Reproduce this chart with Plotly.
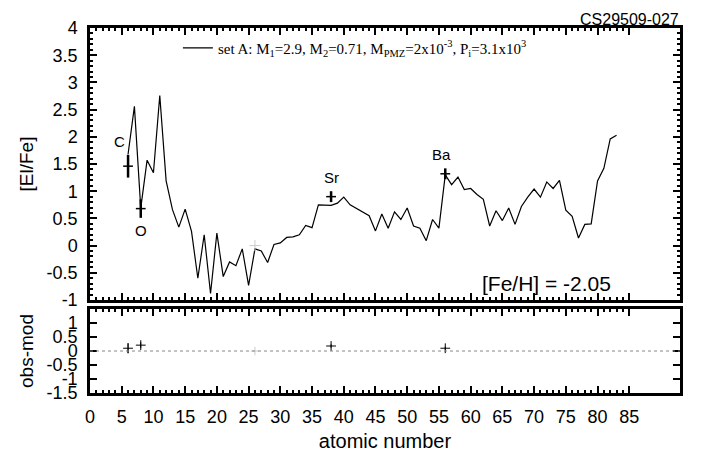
import plotly.graph_objects as go

# model abundance pattern (set A), atomic numbers 6..83
model_z = list(range(6, 84))
model_elfe = [
    1.68, 2.56, 0.69, 1.57, 1.34, 2.76, 1.19, 0.66, 0.34, 0.67,
    0.26, -0.60, 0.20, -0.88, 0.23, -0.57, -0.30, -0.37, -0.06, -0.73,
    -0.06, -0.10, -0.31, 0.02, 0.05, 0.15, 0.16, 0.20, 0.37, 0.33,
    0.75, 0.75, 0.74, 0.78, 0.89, 0.75, 0.68, 0.62, 0.55, 0.27,
    0.58, 0.32, 0.62, 0.48, 0.69, 0.36, 0.32, 0.09, 0.48, 0.32,
    1.30, 1.12, 1.26, 1.03, 1.05, 0.94, 0.85, 0.36, 0.64, 0.46,
    0.69, 0.39, 0.72, 0.89, 1.04, 0.89, 1.17, 1.05, 1.20, 0.65,
    0.54, 0.14, 0.39, 0.40, 1.19, 1.42, 1.96, 2.03,
]

# observed abundances
obs_z = [6, 8, 38, 56]
obs_names = ["C", "O", "Sr", "Ba"]
obs_elfe = [1.46, 0.68, 0.90, 1.32]
obs_err = [0.21, 0.17, 0.10, 0.10]
fe_z = [26]
fe_elfe = [0.0]

# residuals obs - model
res_z = [6, 8, 38, 56]
res_val = [0.10, 0.21, 0.18, 0.10]
res_err = [0.18, 0.10, 0.06, 0.06]

xticks = list(range(0, 90, 5))
xminor = [z for z in range(0, 86) if z % 5]
font = "Liberation Sans, Arial, sans-serif"

fig = go.Figure()

fig.add_trace(go.Scatter(
    x=model_z, y=model_elfe, mode="lines",
    line=dict(color="black", width=1.2),
    name="set A: M<sub>1</sub>=2.9, M<sub>2</sub>=0.71, M<sub>PMZ</sub>=2x10<sup>-3</sup>, P<sub>i</sub>=3.1x10<sup>3</sup>",
    xaxis="x", yaxis="y",
))
fig.add_trace(go.Scatter(
    x=obs_z, y=obs_elfe, mode="markers",
    marker=dict(symbol="line-ew", size=7, line=dict(color="black", width=1.5)),
    error_y=dict(type="data", array=obs_err, color="black", thickness=2.5, width=0),
    showlegend=False, xaxis="x", yaxis="y",
))
fig.add_trace(go.Scatter(
    x=fe_z, y=fe_elfe, mode="markers",
    marker=dict(symbol="cross-thin", size=8, line=dict(color="#cccccc", width=1)),
    showlegend=False, xaxis="x", yaxis="y",
))
fig.add_trace(go.Scatter(
    x=res_z, y=res_val, mode="markers",
    marker=dict(symbol="cross-thin", size=7, line=dict(color="black", width=1)),
    error_y=dict(type="data", array=res_err, color="black", thickness=1, width=0),
    showlegend=False, xaxis="x2", yaxis="y2",
))
fig.add_trace(go.Scatter(
    x=fe_z, y=[0.0], mode="markers",
    marker=dict(symbol="cross-thin", size=6, line=dict(color="#cccccc", width=1)),
    showlegend=False, xaxis="x2", yaxis="y2",
))

ax_common = dict(
    showline=True, linecolor="black", linewidth=2.5, mirror="ticks",
    ticks="inside", tickcolor="black", showgrid=False, zeroline=False,
    automargin=False,
    tickfont=dict(family=font, size=18, color="black"),
)

# the page body adds an 8px margin, so the figure is a bit smaller than the window
fig.update_layout(
    width=702, height=452,
    margin=dict(l=82, r=30, t=20, b=67),
    plot_bgcolor="white", paper_bgcolor="white",
    xaxis=dict(
        **ax_common, range=[0, 93], domain=[0, 1], anchor="y",
        tickmode="array", tickvals=xticks, ticklen=7, tickwidth=1.5,
        showticklabels=False,
        minor=dict(tickmode="array", tickvals=xminor, ticks="inside", ticklen=3, tickcolor="black"),
    ),
    yaxis=dict(
        **ax_common, range=[-1, 4], domain=[0.2548, 1], anchor="x",
        tickmode="array", tickvals=[-1, -0.5, 0, 0.5, 1, 1.5, 2, 2.5, 3, 3.5, 4],
        ticktext=["-1", "-0.5", "0", "0.5", "1", "1.5", "2", "2.5", "3", "3.5", "4"],
        ticklen=7, tickwidth=1.5, ticklabelstandoff=6,
        minor=dict(dtick=0.1, ticks="inside", ticklen=3, tickcolor="black"),
        title=dict(text="[El/Fe]", font=dict(family=font, size=19, color="black"), standoff=8),
    ),
    xaxis2=dict(
        **ax_common, range=[0, 93], domain=[0, 1], anchor="y2",
        tickmode="array", tickvals=xticks, ticklen=7, tickwidth=1.5, ticklabelstandoff=6,
        minor=dict(tickmode="array", tickvals=xminor, ticks="inside", ticklen=3, tickcolor="black"),
        title=dict(text="atomic number", font=dict(family=font, size=20, color="black"), standoff=8),
    ),
    yaxis2=dict(
        **ax_common, range=[-1.5, 1.5], domain=[0, 0.23], anchor="x2",
        tickmode="array", tickvals=[-1.5, -1, -0.5, 0, 0.5, 1],
        ticktext=["-1.5", "-1", "-0.5", "0", "0.5", "1"],
        ticklen=7, tickwidth=1.5, ticklabelstandoff=6,
        title=dict(text="obs-mod", font=dict(family=font, size=19, color="black"), standoff=8),
    ),
    legend=dict(
        x=0.149, y=0.99, xanchor="left", yanchor="top",
        bgcolor="rgba(0,0,0,0)",
        font=dict(family="Liberation Serif, Times New Roman, serif", size=15, color="black"),
    ),
    showlegend=True,
)

# zero line in residual panel
fig.add_shape(type="line", xref="x2 domain", yref="y2", x0=0, x1=1, y0=0, y1=0,
              line=dict(color="#888888", width=1, dash="dot"))

for z, v, e, name in zip(obs_z, obs_elfe, obs_err, obs_names):
    if name == "O":
        fig.add_annotation(x=z, y=v - e, text=name, yshift=-2, yanchor="top",
                           xref="x", yref="y", showarrow=False,
                           font=dict(family=font, size=15, color="black"))
    else:
        fig.add_annotation(x=z - (1.3 if name == "C" else 0.6 if name == "Ba" else 0), y=v + e,
                           text=name, yshift=3, yanchor="bottom", xref="x", yref="y",
                           showarrow=False, font=dict(family=font, size=15, color="black"))

fig.add_annotation(x=0.886, y=0.012, xref="paper", yref="y domain", text="[Fe/H] = -2.05",
                   xanchor="right", yanchor="bottom", showarrow=False,
                   font=dict(family=font, size=21, color="black"))
fig.add_annotation(x=1.0, y=1.0, xref="paper", yref="paper", text="CS29509-027",
                   xanchor="right", yanchor="bottom", yshift=-1, borderpad=0, showarrow=False,
                   font=dict(family=font, size=16, color="black"))

fig.write_html("out.html")
